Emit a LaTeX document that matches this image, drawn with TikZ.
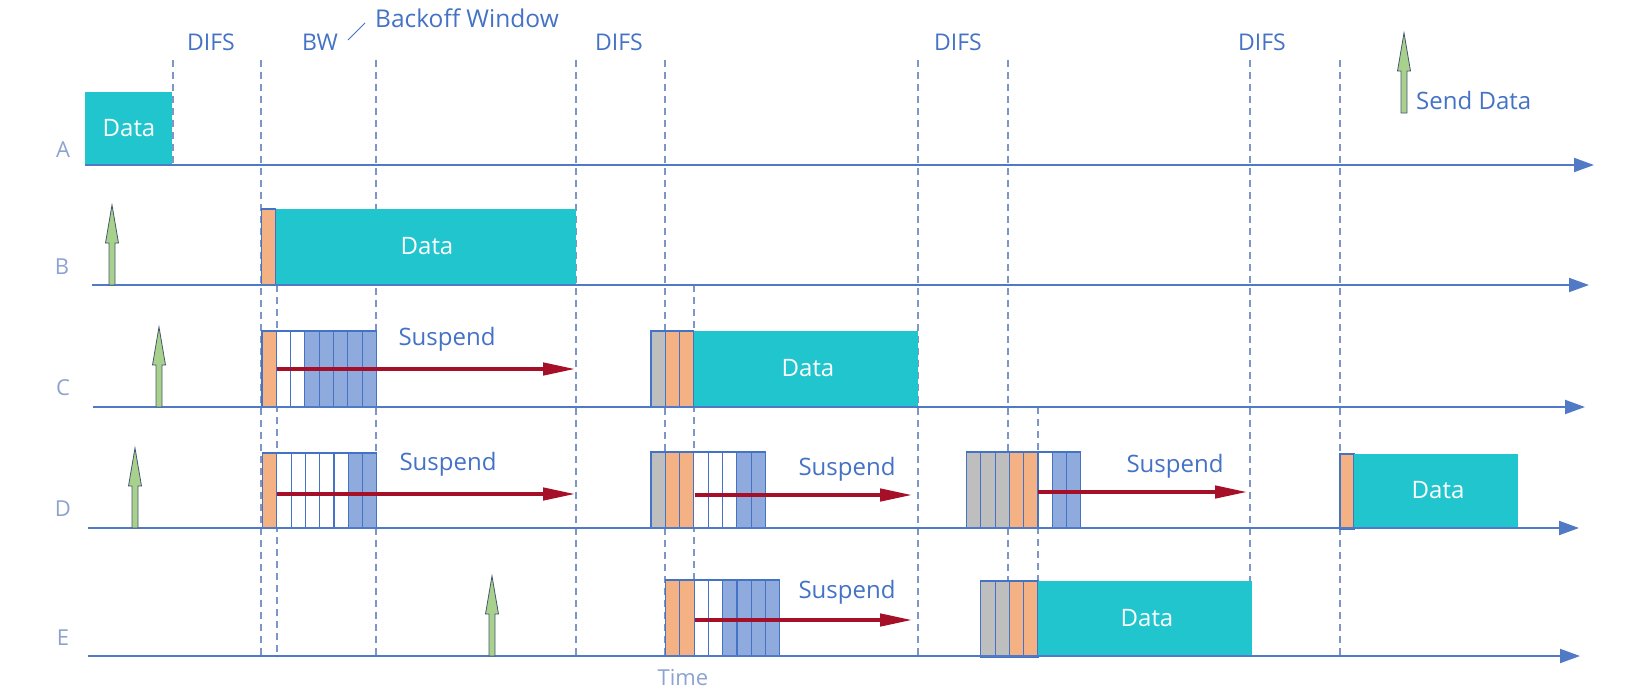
\documentclass[tikz,border=0pt]{standalone}
\usepackage{fontspec}
\setmainfont{Open Sans}
\usetikzlibrary{arrows.meta}
\definecolor{tealc}{RGB}{32,197,206}
\definecolor{orgc}{RGB}{244,177,131}
\definecolor{gryc}{RGB}{190,190,190}
\definecolor{bluc}{RGB}{143,170,220}
\definecolor{whtc}{RGB}{255,255,255}
\definecolor{axisc}{RGB}{80,122,198}
\definecolor{dashc}{RGB}{125,150,200}
\definecolor{txtc}{RGB}{68,114,196}
\definecolor{lblc}{RGB}{140,163,210}
\definecolor{redc}{RGB}{165,15,40}
\definecolor{grnc}{RGB}{169,209,142}
\definecolor{grnedge}{RGB}{70,85,110}
\newcommand{\greenup}[3]{% name, x, y (base)
  \draw[grnedge, fill=grnc, line width=0.8pt] (#2-3,#3) -- (#2-3,#3-42) -- (#2-6.5,#3-42) -- (#2,#3-80) -- (#2+6.5,#3-42) -- (#2+3,#3-42) -- (#2+3,#3) -- cycle;
  \coordinate (#1) at (#2,#3);}
\begin{document}
\begin{tikzpicture}[x=1pt,y=-1pt,
  every node/.style={inner sep=0pt},
  txt/.style={text=txtc, font=\fontsize{23}{27}\selectfont},
  sus/.style={text=txtc, font=\fontsize{24}{28}\selectfont},
  lbl/.style={text=lblc, font=\fontsize{22}{26}\selectfont},
  datatxt/.style={text=white, font=\fontsize{24}{28}\selectfont},
  slot/.style={draw=txtc, line width=1.1pt},
  databox/.style={fill=tealc},
  vdash/.style={draw=dashc, line width=1.3pt, dash pattern=on 7pt off 5pt},
  axis/.style={draw=axisc, line width=2pt, -{Triangle[length=20pt,width=14pt]}},
  suspendarrow/.style={draw=redc, line width=4.5pt, -{Triangle[length=33pt,width=12pt]}}]
\useasboundingbox (0,0) rectangle (1632,691);

% dashed time markers
\draw[vdash] (173,60) -- (173,165);
\foreach \xx in {261,376,576,665,918,1008,1250,1340}
  \draw[vdash] (\xx,60) -- (\xx,657);
\draw[vdash] (277,285) -- (277,657);
\draw[vdash] (694,285) -- (694,657);
\draw[vdash] (1038,407) -- (1038,657);

% top labels
\node[txt] (difs1) at (211,42) {DIFS};
\node[txt] (bw) at (320,42) {BW};
\node[txt] (difs2) at (619,42) {DIFS};
\node[txt] (difs3) at (958,42) {DIFS};
\node[txt] (difs4) at (1262,42) {DIFS};
\node[txt, font=\fontsize{24.5}{28}\selectfont, anchor=base west] (bwin) at (375,27) {Backoff Window};
\coordinate (sl1) at (348,40);
\coordinate (sl2) at (365,23);
\draw[txtc, line width=0.8pt] (sl1) -- (sl2);

% row A
\fill[databox] (85,92) rectangle (172,165);
\node[datatxt] (dA) at (129,128) {Data};

% row B
\draw[slot, fill=orgc] (261.5,209) rectangle (275.5,285);
\fill[databox] (275.5,209) rectangle (576,285);
\node[datatxt] (dB) at (427,246) {Data};

% row C
\foreach \c [count=\i from 0] in {orgc,whtc,whtc,bluc,bluc,bluc,bluc,bluc}
  \draw[slot, fill=\c] ({262+\i*14.3},331) rectangle ++(14.3,76);
\foreach \c [count=\i from 0] in {gryc,orgc,orgc}
  \draw[slot, fill=\c] ({651+\i*14.3},331) rectangle ++(14.3,76);
\fill[databox] (694,331) rectangle (918,407);
\node[datatxt] (dC) at (808,368) {Data};

% row D
\foreach \c [count=\i from 0] in {orgc,whtc,whtc,whtc,whtc,whtc,bluc,bluc}
  \draw[slot, fill=\c] ({262.5+\i*14.3},453) rectangle ++(14.3,75);
\foreach \c [count=\i from 0] in {gryc,orgc,orgc,whtc,whtc,whtc,bluc,bluc}
  \draw[slot, fill=\c] ({651+\i*14.3},452) rectangle ++(14.3,76);
\foreach \c [count=\i from 0] in {gryc,gryc,gryc,orgc,orgc,whtc,bluc,bluc}
  \draw[slot, fill=\c] ({966.5+\i*14.3},452) rectangle ++(14.3,76);
\draw[slot, fill=orgc] (1340,454) rectangle (1354,529);
\fill[databox] (1354,454) rectangle (1518,529);
\node[datatxt] (dD) at (1438,490) {Data};

% row E
\foreach \c [count=\i from 0] in {orgc,orgc,whtc,whtc,bluc,bluc,bluc,bluc}
  \draw[slot, fill=\c] ({665.5+\i*14.3},580) rectangle ++(14.3,76);
\foreach \c [count=\i from 0] in {gryc,gryc,orgc,orgc}
  \draw[slot, fill=\c] ({980.8+\i*14.3},581) rectangle ++(14.3,76);
\fill[databox] (1038,581) rectangle (1252,657);
\node[datatxt] (dE) at (1147,618) {Data};

% suspend arrows
\coordinate (sC0) at (277,369);   \coordinate (sC1) at (576,369);
\coordinate (sD0) at (277,494);   \coordinate (sD1) at (576,494);
\coordinate (sD2) at (695,495);   \coordinate (sD3) at (913,495);
\coordinate (sD4) at (1038,492);  \coordinate (sD5) at (1248,492);
\coordinate (sE0) at (695,620);   \coordinate (sE1) at (913,620);
\draw[suspendarrow] (sC0) -- (sC1);
\draw[suspendarrow] (sD0) -- (sD1);
\draw[suspendarrow] (sD2) -- (sD3);
\draw[suspendarrow] (sD4) -- (sD5);
\draw[suspendarrow] (sE0) -- (sE1);
\node[sus] (suC) at (447,339) {Suspend};
\node[sus] (suD1) at (448,464) {Suspend};
\node[sus] (suD2) at (847,469) {Suspend};
\node[sus] (suD3) at (1175,466) {Suspend};
\node[sus] (suE) at (847,592) {Suspend};

% axes
\coordinate (a0) at (85,165);  \coordinate (a1) at (1594,165);
\coordinate (b0) at (92,285);  \coordinate (b1) at (1589,285);
\coordinate (c0) at (93,407);  \coordinate (c1) at (1585,407);
\coordinate (d0) at (88,528);  \coordinate (d1) at (1579,528);
\coordinate (e0) at (88,656);  \coordinate (e1) at (1580,656);
\draw[axis] (a0) -- (a1);
\draw[axis] (b0) -- (b1);
\draw[axis] (c0) -- (c1);
\draw[axis] (d0) -- (d1);
\draw[axis] (e0) -- (e1);

% row labels
\node[lbl] (lA) at (63,150) {A};
\node[lbl] (lB) at (62,267) {B};
\node[lbl] (lC) at (63,388) {C};
\node[lbl] (lD) at (63,509) {D};
\node[lbl] (lE) at (63,638) {E};
\node[lbl] (time) at (683,678) {Time};

% send-data arrows
\greenup{gB}{112}{285}
\greenup{gC}{159}{407}
\greenup{gD}{135}{528}
\greenup{gE}{492}{656}
\greenup{gL}{1404}{113}
\node[sus, anchor=west] (senddata) at (1416,100) {Send Data};
\end{tikzpicture}
\end{document}
